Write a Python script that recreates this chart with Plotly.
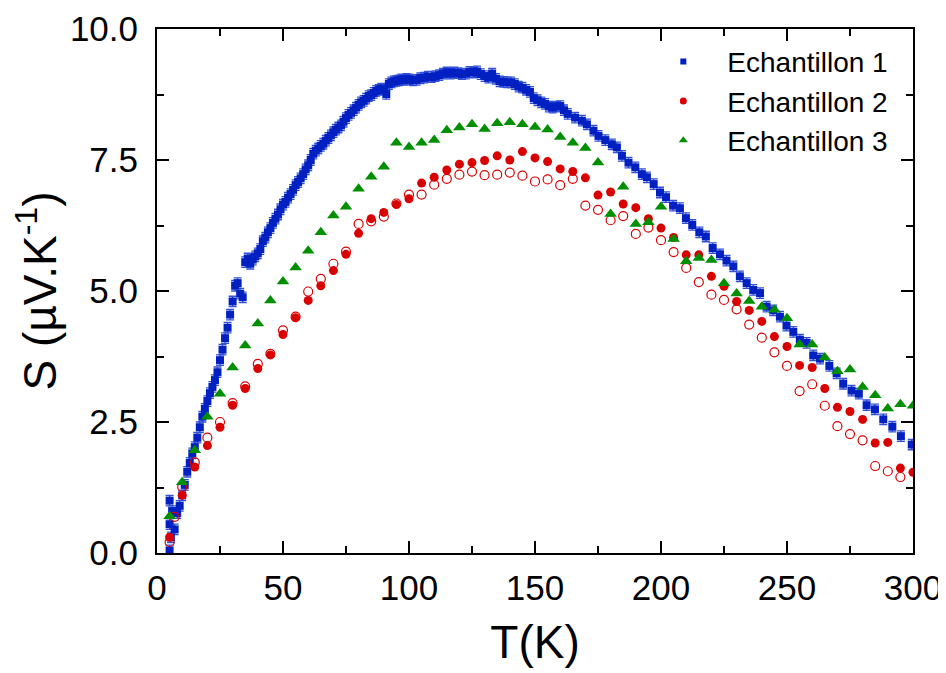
import plotly.graph_objects as go

# ---------------- data ----------------
T1 = [5, 5, 5, 5.5, 6, 7, 8, 9, 10, 11, 12, 13, 14, 15, 16, 17, 18, 19, 20,
      21, 22, 23, 24, 25, 26, 27, 28, 29, 30, 31, 32, 33, 34, 35, 36, 37, 38, 39, 40,
      41, 42, 43, 44, 45, 46, 47, 48, 49, 50, 51, 52, 53, 54, 55, 56, 57, 58, 59, 60,
      61, 62, 63, 64, 65, 66, 67, 68, 69, 70, 71, 72, 73, 74, 75, 76, 77, 78, 79, 80,
      81, 82, 83, 84, 85, 86, 87, 88, 89, 90, 91, 92, 93, 94, 95, 96, 97, 98, 99, 100,
      101.5, 103, 104.5, 106, 107.5, 109, 110.5, 112, 113.5, 115, 116.5, 118, 119.5,
      121, 122.5, 124, 125.5, 127, 128.5, 130, 131.5, 133, 134.5, 136, 137.5, 139,
      140.5, 142, 143.5, 145, 146.5, 148, 149.5, 151, 152.5, 154, 155.5, 157, 158.5,
      160, 161.5, 163, 165.9, 168.6, 170.6, 173.2, 175.2, 177.9, 180.5, 182.5, 184.5,
      187.1, 189.8, 192.4, 194.4, 197.1, 199.6, 202, 204.8, 207.5, 209.9, 212.4,
      215.2, 217.8, 220.5, 223.4, 226, 228.7, 231.3, 234, 236.6, 239.3, 241.9, 244.5,
      247.2, 249.8, 252.5, 255.1, 257.8, 260.4, 263.1, 266.8, 269.7, 272.3, 275.6,
      278.5, 281.6, 284.9, 288.2, 291.8, 295.2, 299.5]
S1 = [0.05, 0.55, 1.0, 0.3, 0.8, 0.45, 0.76, 0.9, 1.1, 1.3, 1.55, 1.72, 1.9, 2.02,
      2.2, 2.4, 2.6, 2.75, 2.9, 3.05, 3.17, 3.3, 3.45, 3.68, 3.88, 4.1, 4.3, 4.55, 4.8,
      5.1, 5.15, 4.95, 4.88, 5.55, 5.62, 5.52, 5.6, 5.66, 5.72, 5.8, 5.95, 6.02, 6.12,
      6.2, 6.3, 6.38, 6.46, 6.56, 6.65, 6.7, 6.78, 6.85, 6.93, 7.02, 7.08, 7.15, 7.23,
      7.32, 7.4, 7.5, 7.62, 7.68, 7.72, 7.77, 7.81, 7.87, 7.92, 7.97, 8.03, 8.08, 8.12,
      8.16, 8.23, 8.3, 8.36, 8.4, 8.45, 8.5, 8.55, 8.6, 8.63, 8.67, 8.72, 8.74, 8.78,
      8.82, 8.84, 8.86, 8.85, 8.76, 8.95, 8.98, 9.0, 9.01, 9.02, 9.04, 9.03, 9.05, 9.04,
      9.02, 9.03, 9.06, 9.07, 9.09, 9.08, 9.1, 9.12, 9.15, 9.17, 9.15, 9.17, 9.16,
      9.14, 9.15, 9.18, 9.17, 9.19, 9.14, 9.1, 9.07, 9.15, 9.05, 9.0, 8.99, 8.98,
      8.98, 8.95, 8.9, 8.88, 8.84, 8.8, 8.68, 8.64, 8.6, 8.57, 8.52, 8.5, 8.52,
      8.53, 8.45, 8.38, 8.31, 8.25, 8.18, 8.06, 7.96, 7.88, 7.8, 7.74, 7.58,
      7.45, 7.36, 7.23, 7.17, 7.04, 6.88, 6.79, 6.63, 6.58, 6.39, 6.26,
      6.12, 6.04, 5.82, 5.7, 5.58, 5.47, 5.28, 5.15, 5.02, 4.96, 4.7, 4.63,
      4.51, 4.34, 4.22, 4.07, 4.01, 3.77, 3.71, 3.57, 3.43, 3.23, 3.1,
      3.04, 2.82, 2.74, 2.55, 2.41, 2.23, 2.07]
ERR1 = 0.1

T2 = [5, 10, 15, 20, 25, 30, 35, 40, 45, 50, 55, 60, 65, 70, 75, 80, 85, 90, 95, 100,
      105, 110, 115, 120, 125, 130, 135, 140, 145, 150, 155, 160, 165, 170, 175, 180,
      185, 190, 195, 200, 205, 210, 215, 220, 225, 230, 235, 240, 245, 250, 255, 260,
      265, 270, 275, 280, 285, 290, 295, 300]
S2 = [0.3, 1.1, 1.64, 2.05, 2.4, 2.82, 3.14, 3.52, 3.78, 4.17, 4.49, 4.82, 5.1, 5.39,
      5.7, 6.1, 6.38, 6.5, 6.65, 6.76, 7.06, 7.17, 7.31, 7.42, 7.45, 7.49, 7.58, 7.5,
      7.66, 7.54, 7.47, 7.33, 7.28, 7.16, 6.83, 6.89, 6.66, 6.59, 6.38, 6.2, 6.02, 5.69,
      5.69, 5.28, 5.09, 4.8, 4.63, 4.42, 4.13, 3.94, 3.58, 3.54, 3.14, 2.78, 2.7, 2.55,
      2.1, 2.11, 1.62, 1.54]

T2_open = [5, 7, 10, 15, 20, 25, 30, 35, 40, 45, 50, 55, 60, 65, 70, 75, 80, 85, 90, 95,
           100, 105, 110, 115, 120, 125, 130, 135, 140, 145, 150, 155, 160, 165, 170,
           175, 180, 185, 190, 195, 200, 205, 210, 215, 220, 225, 230, 235, 240, 245,
           250, 255, 260, 265, 270, 275, 280, 285, 290, 295]
S2_open = [0.21, 0.69, 1.26, 1.73, 2.2, 2.5, 2.86, 3.18, 3.61, 3.8, 4.25, 4.51, 4.99,
           5.23, 5.52, 5.75, 6.28, 6.33, 6.42, 6.67, 6.84, 6.84, 7.03, 7.14, 7.22, 7.28,
           7.21, 7.22, 7.26, 7.2, 7.09, 7.13, 7.02, 7.14, 6.63, 6.55, 6.35, 6.43, 6.09,
           6.21, 5.97, 5.74, 5.44, 5.17, 4.93, 4.83, 4.65, 4.36, 4.11, 3.83, 3.57, 3.09,
           3.22, 2.81, 2.42, 2.27, 2.15, 1.66, 1.56, 1.45]

T3 = [5, 10, 15, 20, 25, 30, 35, 40, 45, 50, 55, 60, 65, 70, 75, 80, 85, 90, 95, 100,
      105, 110, 115, 120, 125, 130, 135, 140, 145, 150, 155, 160, 165, 170, 175, 180,
      185, 190, 195, 200, 205, 210, 215, 220, 225, 230, 235, 240, 245, 250, 255, 260,
      265, 270, 275, 280, 285, 290, 295, 300]
S3 = [0.7, 1.35, 1.96, 2.6, 3.04, 3.54, 3.96, 4.38, 4.82, 5.18, 5.45, 5.77, 6.12, 6.44,
      6.61, 6.95, 7.18, 7.37, 7.83, 7.75, 7.83, 7.88, 8.07, 8.12, 8.18, 8.09, 8.2, 8.22,
      8.18, 8.13, 8.08, 7.94, 7.83, 7.73, 7.45, 6.47, 6.99, 6.28, 6.31, 6.61, 5.99, 5.57,
      5.63, 5.59, 5.15, 4.95, 4.81, 4.7, 4.64, 4.48, 3.98, 3.98, 3.73, 3.47, 3.5, 3.17,
      3.01, 2.76, 2.84, 2.81]

NAMES = ["Echantillon 1", "Echantillon 2", "Echantillon 3"]
X_TICKS = [0, 50, 100, 150, 200, 250, 300]
Y_TICKS = [0, 2.5, 5, 7.5, 10]
Y_TICKTEXT = ["0.0", "2.5", "5.0", "7.5", "10.0"]

BLUE = "#0020C2"
RED = "#D90000"
GREEN = "#008F00"
FONT = "Liberation Sans, Arial, sans-serif"

fig = go.Figure()

fig.add_trace(go.Scatter(
    x=T1, y=S1, mode="markers", showlegend=False,
    marker=dict(symbol="square", size=8, color=BLUE),
    error_y=dict(type="constant", value=ERR1, color="#3050D8", thickness=1.3, width=4),
))
fig.add_trace(go.Scatter(
    x=T2_open, y=S2_open, mode="markers", showlegend=False,
    marker=dict(symbol="circle-open", size=9, color=RED, line=dict(width=1.2, color=RED)),
))
fig.add_trace(go.Scatter(
    x=T2, y=S2, mode="markers", showlegend=False,
    marker=dict(symbol="circle", size=9, color=RED),
))
fig.add_trace(go.Scatter(
    x=T3, y=S3, mode="markers", showlegend=False,
    marker=dict(symbol="triangle-up", size=11, color=GREEN),
))

# legend entries (small symbols, as in the reference)
legend_styles = [("square", BLUE, 6), ("circle", RED, 7), ("triangle-up", GREEN, 8)]
for name, (sym, col, sz) in zip(NAMES, legend_styles):
    fig.add_trace(go.Scatter(x=[None], y=[None], mode="markers", name=name,
                             marker=dict(symbol=sym, size=sz, color=col)))

axis_common = dict(
    showline=True, linecolor="black", linewidth=2, mirror="allticks",
    ticks="inside", ticklen=12, tickwidth=2, tickcolor="black",
    showgrid=False, zeroline=False, automargin=False,
    tickfont=dict(family=FONT, size=35, color="black"),
)

fig.update_xaxes(
    range=[0, 300], tickvals=X_TICKS,
    minor=dict(ticks="inside", ticklen=7, tickwidth=2, tickcolor="black", dtick=25, tick0=0),
    title=dict(text="T(K)", font=dict(family=FONT, size=46, color="black"), standoff=20),
    ticklabelstandoff=3,
    **axis_common,
)
fig.update_yaxes(
    range=[0, 10], tickvals=Y_TICKS, ticktext=Y_TICKTEXT,
    minor=dict(ticks="inside", ticklen=7, tickwidth=2, tickcolor="black", dtick=1.25, tick0=0),
    title=dict(text="S (µV.K<sup>-1</sup>)", font=dict(family=FONT, size=46, color="black"), standoff=4),
    ticklabelstandoff=10,
    **axis_common,
)

# the page body adds an 8 px offset, so the figure is 8 px smaller on each axis
fig.update_layout(
    width=938, height=665,
    margin=dict(l=149, r=33, t=21, b=120),
    plot_bgcolor="white", paper_bgcolor="white",
    legend=dict(x=0.638, y=0.985, xanchor="left", yanchor="top",
                font=dict(family=FONT, size=28, color="black"),
                bgcolor="rgba(0,0,0,0)", itemwidth=78, tracegroupgap=0),
)

fig.write_html("out.html")
